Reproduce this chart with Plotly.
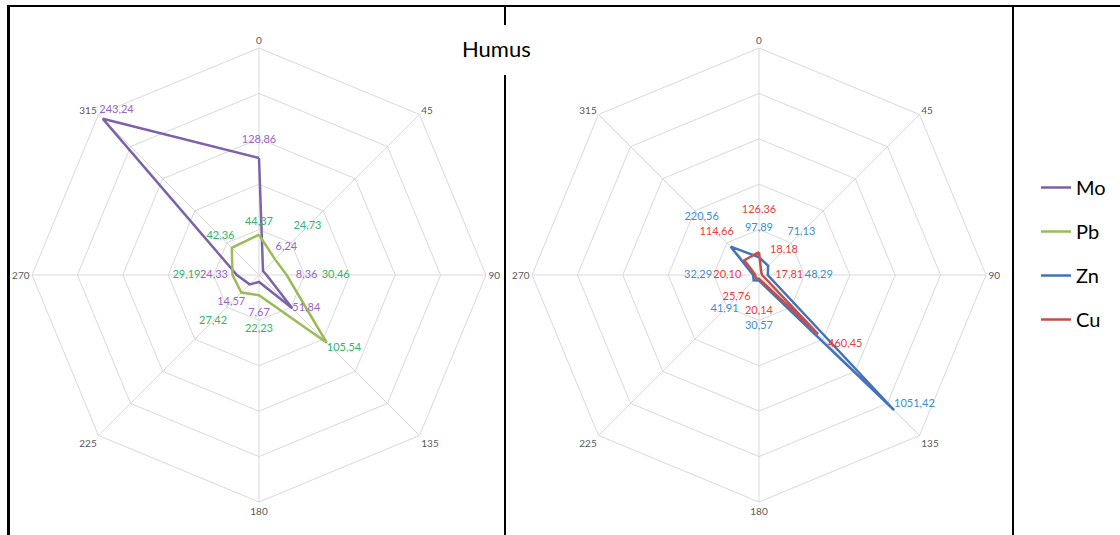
import plotly.graph_objects as go

# ---------------- data ----------------
directions = ['0', '45', '90', '135', '180', '225', '270', '315']
mo = [128.86, 6.24, 8.36, 51.84, 7.67, 14.57, 24.33, 243.24]
pb = [44.37, 24.73, 30.46, 105.54, 22.23, 27.42, 29.19, 42.36]
zn = [97.89, 71.13, 48.29, 1051.42, 30.57, 41.91, 32.29, 220.56]
cu = [126.36, 18.18, 17.81, 460.45, 20.14, 25.76, 20.10, 114.66]
left_max, left_step = 250, 50
right_max, right_step = 1250, 250
title_text = 'Humus'

# ---------------- style ----------------
W, H = 1120, 535
R = 227  # polar radius in px
FONT = 'Lato'
GRID = '#D9D9D9'

series_style = {
    'Mo': dict(line='#7E62A8', label='#9A63C7',
               pad=[18, 33, 40, 0, 31, 26, 23, 5],
               pos=['middle center', 'middle center', 'middle center', 'middle right',
                    'middle center', 'middle center', 'middle center', 'top right']),
    'Pb': dict(line='#9BBB59', label='#2EB56E',
               pad=[12, 46, 49, 0, 34, 40, 46, 16],
               pos=['middle center', 'middle center', 'middle center', 'bottom right',
                    'middle center', 'middle center', 'middle center', 'middle center']),
    'Zn': dict(line='#4573B9', label='#3A8FD3',
               pad=[29, 47, 51, 0, 46, 41, 55, 41],
               pos=['middle center', 'middle center', 'middle center', 'top right',
                    'middle center', 'middle center', 'middle center', 'middle center']),
    'Cu': dict(line='#C0504D', label='#EE3B3B',
               pad=[42, 32, 27, 14, 33, 27, 28, 39],
               pos=['middle center', 'middle center', 'middle center', 'middle right',
                    'middle center', 'middle center', 'middle center', 'middle center']),
}


def closed(seq):
    return list(seq) + [seq[0]]


def fmt(v):
    return f'{v:.2f}'.replace('.', ',')


fig = go.Figure()

groups = [('Mo', mo, 'polar', left_max), ('Pb', pb, 'polar', left_max),
          ('Zn', zn, 'polar2', right_max), ('Cu', cu, 'polar2', right_max)]

for name, vals, sub, vmax in groups:
    st = series_style[name]
    fig.add_trace(go.Scatterpolar(
        r=closed(vals), theta=closed(directions), mode='lines', name=name,
        line=dict(color=st['line'], width=2.5), subplot=sub, legendgroup=name,
        hoverinfo='name+r+theta'))

for name, vals, sub, vmax in groups:
    st = series_style[name]
    k = R / vmax
    # keep label anchors inside the radial range so they are not clipped
    fig.add_trace(go.Scatterpolar(
        r=[min(v + p / k, vmax * 0.999) for v, p in zip(vals, st['pad'])], theta=directions,
        mode='text', text=[fmt(v) for v in vals], textposition=st['pos'],
        textfont=dict(family=FONT, size=11, color=st['label']),
        subplot=sub, showlegend=False, hoverinfo='skip'))


def polar_layout(cx, cy, vmax, step):
    return dict(
        domain=dict(x=[(cx - R) / W, (cx + R) / W],
                    y=[(H - cy - R) / H, (H - cy + R) / H]),
        bgcolor='white',
        gridshape='linear',
        radialaxis=dict(range=[0, vmax], dtick=step, showticklabels=False,
                        ticks='', showline=False, gridcolor=GRID, gridwidth=1,
                        layer='below traces'),
        angularaxis=dict(type='category', categoryarray=directions,
                         direction='clockwise', rotation=90,
                         showline=True, linecolor=GRID, linewidth=1,
                         gridcolor=GRID, gridwidth=1,
                         ticks='',
                         tickfont=dict(family=FONT, size=10, color='#595959'),
                         layer='below traces'),
    )


def px(x):
    return x / W


def py(y):
    return 1 - y / H


line_black = dict(color='black', width=2)
shapes = [
    dict(type='line', xref='paper', yref='paper', x0=px(8), x1=px(1120), y0=py(6), y1=py(6), line=line_black),
    dict(type='line', xref='paper', yref='paper', x0=px(8.5), x1=px(8.5), y0=py(5), y1=py(535), line=dict(color='black', width=3)),
    dict(type='line', xref='paper', yref='paper', x0=px(505), x1=px(505), y0=py(5), y1=py(25), line=line_black),
    dict(type='line', xref='paper', yref='paper', x0=px(505), x1=px(505), y0=py(75), y1=py(535), line=line_black),
    dict(type='line', xref='paper', yref='paper', x0=px(1013), x1=px(1013), y0=py(5), y1=py(535), line=line_black),
]

fig.update_layout(
    width=W, height=H,
    margin=dict(l=0, r=0, t=0, b=0),
    paper_bgcolor='white', plot_bgcolor='white',
    font=dict(family=FONT, color='#000000'),
    polar=polar_layout(259, 275, left_max, left_step),
    polar2=polar_layout(759, 275, right_max, right_step),
    shapes=shapes,
    annotations=[dict(text=title_text, x=px(496), y=py(49), xref='paper', yref='paper',
                      showarrow=False, xanchor='center', yanchor='middle',
                      font=dict(family=FONT, size=22, color='#000000'))],
    showlegend=True,
    legend=dict(x=px(1036), y=py(168), xanchor='left', yanchor='top',
                bgcolor='rgba(0,0,0,0)', borderwidth=0,
                traceorder='grouped', tracegroupgap=15,
                font=dict(family=FONT, size=20, color='#000000')),
)

fig.write_html('out.html', config={'displayModeBar': False},
               post_script="document.body.style.margin='0';document.body.style.overflow='hidden';")
